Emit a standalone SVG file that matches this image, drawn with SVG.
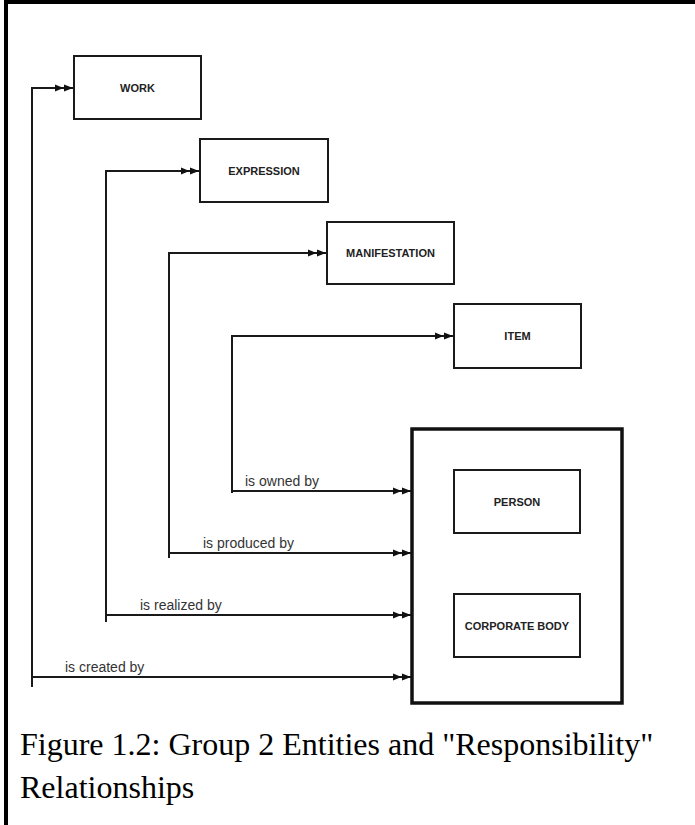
<svg xmlns="http://www.w3.org/2000/svg" width="695" height="825" viewBox="0 0 695 825">
<style>
.box{fill:#fff;stroke:#1a1a1a;stroke-width:2}
.big{fill:#fff;stroke:#111;stroke-width:3.5}
.lbl{font-family:"Liberation Sans",Arial,sans-serif;font-size:11px;font-weight:bold;fill:#222;text-anchor:middle}
.rel{font-family:"Liberation Sans",Arial,sans-serif;font-size:14px;fill:#333}
.ln{fill:none;stroke:#1a1a1a;stroke-width:2}
.cap{font-family:"Liberation Serif","Times New Roman",serif;font-size:32px;fill:#000}
</style>
<defs>
<marker id="dbl" viewBox="0 0 18 8" refX="18" refY="4" markerWidth="18" markerHeight="8" markerUnits="userSpaceOnUse" orient="auto">
<path d="M0,0.5 L8.5,4 L0,7.5 Z M9,0.5 L18,4 L9,7.5 Z" fill="#111"/>
</marker>
</defs>
<rect x="0" y="0" width="695" height="825" fill="#fff"/>
<g id="frame">
<line x1="6" y1="0" x2="6" y2="825" stroke="#000" stroke-width="4"/>
<line x1="4" y1="2" x2="695" y2="2" stroke="#000" stroke-width="4"/>
</g>
<g id="connectors">
<path class="ln" d="M32,687 V88 H73" marker-end="url(#dbl)"/>
<path class="ln" d="M106,622 V171 H199" marker-end="url(#dbl)"/>
<path class="ln" d="M169,558 V253 H326" marker-end="url(#dbl)"/>
<path class="ln" d="M232,493 V336 H453" marker-end="url(#dbl)"/>
<path class="ln" d="M232,491 H411" marker-end="url(#dbl)"/>
<path class="ln" d="M169,553 H411" marker-end="url(#dbl)"/>
<path class="ln" d="M106,615 H411" marker-end="url(#dbl)"/>
<path class="ln" d="M32,677 H411" marker-end="url(#dbl)"/>
<text class="rel" x="245" y="486">is owned by</text>
<text class="rel" x="203" y="548">is produced by</text>
<text class="rel" x="140" y="610">is realized by</text>
<text class="rel" x="65" y="672">is created by</text>
</g>
<g id="work">
<rect class="box" x="74" y="56" width="127" height="63"/>
<text class="lbl" x="137.5" y="91.5">WORK</text>
</g>
<g id="expression">
<rect class="box" x="200" y="139" width="128" height="63"/>
<text class="lbl" x="264" y="174.5">EXPRESSION</text>
</g>
<g id="manifestation">
<rect class="box" x="327" y="222" width="127" height="62"/>
<text class="lbl" x="390.5" y="257">MANIFESTATION</text>
</g>
<g id="item">
<rect class="box" x="454" y="304" width="127" height="64"/>
<text class="lbl" x="517.5" y="340">ITEM</text>
</g>
<g id="group2">
<rect class="big" x="412" y="429" width="210" height="274"/>
</g>
<g id="person">
<rect class="box" x="454" y="470" width="126" height="63"/>
<text class="lbl" x="517" y="505.5">PERSON</text>
</g>
<g id="corporate-body">
<rect class="box" x="454" y="594" width="126" height="63"/>
<text class="lbl" x="517" y="629.5">CORPORATE BODY</text>
</g>
<g id="caption">
<text class="cap" x="20" y="755">Figure 1.2: Group 2 Entities and "Responsibility"</text>
<text class="cap" x="20" y="798">Relationships</text>
</g>
</svg>
